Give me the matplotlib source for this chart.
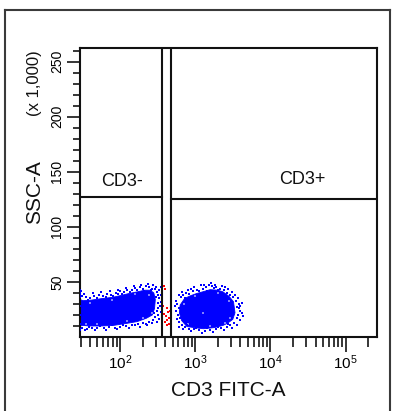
import numpy as np
import matplotlib
matplotlib.use("Agg")
import matplotlib.pyplot as plt
from matplotlib.lines import Line2D
from matplotlib.ticker import FixedLocator, LogLocator, NullFormatter

plt.rcParams['font.family'] = ['Liberation Sans', 'DejaVu Sans']
plt.rcParams['mathtext.fontset'] = 'custom'
plt.rcParams['mathtext.rm'] = 'Liberation Sans'
plt.rcParams['mathtext.default'] = 'regular'

# ---------------- data (x as log10 of CD3 FITC-A, y as SSC-A in thousands) ----------------
x_limits = [29.4, 262144]
y_limits = [0, 262]
y_major = [50, 100, 150, 200, 250]
x_major = [1e2, 1e3, 1e4, 1e5]
x_ticklabels = [r'$10^{2}$', r'$10^{3}$', r'$10^{4}$', r'$10^{5}$']

# gates
gate_neg_xmax = 362      # CD3- gate right edge
gate_neg_y = 127.2       # CD3- gate horizontal line
gate_pos_xmin = 476      # CD3+ gate left edge
gate_pos_y = 125.1       # CD3+ gate horizontal line
gate_names = ['CD3-', 'CD3+']
gate_label_x = [106, 26700]
gate_label_y = [141.3, 142.6]

# dense core outlines of the two populations (log10 x, y)
neg_core_logx = [1.468, 1.468, 1.51, 1.62, 1.77, 1.90, 2.00, 2.12, 2.23, 2.33, 2.40, 2.45,
                 2.47, 2.46, 2.43, 2.35, 2.23, 2.10, 1.91, 1.75, 1.60, 1.51]
neg_core_y = [10, 34, 33, 33.5, 35, 36, 37.5, 39.5, 41, 42.5, 42.5, 40,
              34, 26, 20, 17, 14, 12.5, 10.5, 10, 10, 10.5]
pos_core_logx = [2.80, 2.86, 2.94, 3.02, 3.10, 3.20, 3.30, 3.37, 3.45, 3.51, 3.53, 3.50,
                 3.43, 3.37, 3.25, 3.11, 2.99, 2.89, 2.82, 2.79]
pos_core_y = [29, 35, 37.5, 39.5, 41, 43, 42.5, 41, 37, 32, 22, 16,
              12.5, 10.5, 8.5, 7.5, 8.5, 9.5, 15, 22]

# sparse events around the cores
neg_dots_logx = [1.50, 1.55, 1.60, 1.66, 1.72, 1.78, 1.83, 1.88, 1.95, 2.00, 2.06, 2.10, 2.16,
                 2.20, 2.26, 2.30, 2.35, 2.39, 2.43, 2.46, 2.49, 2.50, 2.52, 2.50, 2.53, 2.49,
                 2.51, 2.47, 2.44, 2.38, 2.30, 2.24, 2.16, 2.08, 2.00, 1.93, 1.86, 1.79, 1.70,
                 1.63, 1.56, 1.50, 1.47, 1.47, 1.47, 1.48, 2.25, 2.40, 2.45, 2.52, 2.55, 2.36,
                 1.98, 1.469, 1.469, 1.469, 1.469, 1.469, 1.469, 1.469,
                 1.52, 1.58, 1.64, 1.69, 1.75, 1.81, 1.87, 1.91, 1.97, 2.03, 2.08, 2.13, 2.18,
                 2.22, 2.28, 2.32, 2.37, 2.41, 2.44, 2.48, 2.52, 2.54, 2.48, 2.55, 2.51, 2.54,
                 2.49, 2.42, 2.34, 2.27, 2.20, 2.12, 2.04, 1.96, 1.89, 1.82, 1.74, 1.67, 1.59, 1.53]
neg_dots_y = [37, 36.5, 35.5, 37, 38, 37, 39, 38.5, 40, 41.5, 41, 43, 42.5,
              44.5, 45, 44, 46, 45.5, 44, 43.5, 41, 38, 35, 31, 28, 24,
              20, 18, 15.5, 14, 13, 12, 10.5, 10, 9, 8.5, 9, 8, 8.5,
              8, 7.5, 8, 6.5, 38, 40, 42, 26, 30, 22, 16, 45, 10.5,
              39.5, 7, 12, 20, 28, 36, 40, 43,
              39.5, 34, 40, 35.5, 41, 36.5, 42, 37.5, 43, 39, 44.5, 40.5, 46,
              42.5, 47, 42, 48, 43, 47, 45.5, 42.5, 38.5, 36, 32, 26, 22.5,
              14, 12.5, 11.5, 9.5, 11, 8, 11, 7, 10.5, 6.5, 10, 6.5, 9.5, 6]
pos_dots_logx = [2.76, 2.78, 2.77, 2.79, 2.81, 2.84, 2.88, 2.92, 2.97, 3.02, 3.05, 3.10, 3.15,
                 3.18, 3.22, 3.25, 3.28, 3.33, 3.38, 3.42, 3.47, 3.50, 3.54, 3.58, 3.55, 3.60,
                 3.57, 3.55, 3.52, 3.47, 3.42, 3.35, 3.28, 3.20, 3.13, 3.05, 2.98, 2.92, 2.86,
                 2.82, 2.80, 3.60, 3.48, 3.40, 2.95, 3.08, 3.62,
                 2.74, 2.75, 2.79, 2.83, 2.87, 2.90, 2.99, 3.04, 3.12, 3.16, 3.21, 3.26, 3.31,
                 3.36, 3.44, 3.49, 3.53, 3.57, 3.62, 3.58, 3.63, 3.59, 3.55, 3.49, 3.44, 3.38,
                 3.31, 3.24, 3.16, 3.09, 3.01, 2.95, 2.89, 2.84, 2.78, 2.76, 2.73]
pos_dots_y = [30, 26, 20, 14, 36, 38, 40, 39, 42, 43, 41.5, 44, 45.5,
              47, 46, 44.5, 45.5, 44, 43, 40, 38, 36, 33, 30, 27, 24,
              20, 17, 13, 11, 9.5, 8, 7, 6, 5.5, 6, 7, 7.5, 9,
              11, 17, 28, 25, 45.5, 43.5, 47, 22,
              24, 33, 38, 41, 35.5, 43, 45, 38.5, 47.5, 42, 49, 47.5, 42.5,
              46.5, 43.5, 40.5, 38, 35, 31, 26, 19, 15, 11, 8.5, 12, 6,
              9, 4.5, 8, 4, 8.5, 5.5, 10.5, 7, 9, 16, 28]
# small gaps inside the dense cores
neg_gaps_logx = [1.60, 1.90, 2.20, 2.38, 2.42, 1.70, 2.10, 2.30, 1.55]
neg_gaps_y = [31, 34, 39, 38, 22, 12, 14.5, 17.5, 12]
pos_gaps_logx = [2.85, 3.00, 3.30, 3.45, 3.46, 3.20, 2.90, 3.10, 3.40]
pos_gaps_y = [30, 37, 40, 33, 17, 10, 12, 22, 12.5]
# ungated events between the two gates
mid_dots_logx = [2.589, 2.600, 2.621, 2.642, 2.612, 2.656, 2.598, 2.652, 2.621, 2.665, 2.585, 2.630, 2.575]
mid_dots_y = [46.5, 44, 26, 23, 19.5, 17, 14, 12, 10.5, 24, 21, 15.5, 28]

# ---------------- figure ----------------
W, H = 395, 411
fig = plt.figure(figsize=(W / 100, H / 100), dpi=100)
fig.patch.set_facecolor('white')

# outer frame
bc = '#3a3a3a'
fig.add_artist(Line2D([4.5 / W, 4.5 / W], [0, 1 - 10 / H], color=bc, lw=1.5, transform=fig.transFigure))
fig.add_artist(Line2D([389.5 / W, 389.5 / W], [0, 1 - 10 / H], color=bc, lw=1.5, transform=fig.transFigure))
fig.add_artist(Line2D([4.5 / W, 389.5 / W], [1 - 10 / H, 1 - 10 / H], color=bc, lw=1.5, transform=fig.transFigure))

L, R, T, B = 80, 377, 48.5, 337
ax = fig.add_axes([L / W, 1 - B / H, (R - L) / W, (B - T) / H])
ax.set_xscale('log')
ax.set_xlim(*x_limits)
ax.set_ylim(*y_limits)

blue = '#0000ff'
ax.fill(10 ** np.array(neg_core_logx), neg_core_y, color=blue, lw=0.6, ec=blue, zorder=2)
ax.fill(10 ** np.array(pos_core_logx), pos_core_y, color=blue, lw=0.6, ec=blue, zorder=2)
ax.scatter(10 ** np.array(neg_gaps_logx), neg_gaps_y, s=2.0, marker='s', c='#8080ff', lw=0, zorder=2.5)
ax.scatter(10 ** np.array(pos_gaps_logx), pos_gaps_y, s=2.0, marker='s', c='#8080ff', lw=0, zorder=2.5)
ax.scatter(10 ** np.array(neg_dots_logx), neg_dots_y, s=2.5, marker='s', c=blue, lw=0, zorder=3)
ax.scatter(10 ** np.array(pos_dots_logx), pos_dots_y, s=2.5, marker='s', c=blue, lw=0, zorder=3)
ax.scatter(10 ** np.array(mid_dots_logx), mid_dots_y, s=2.5, marker='s', c='#ff0000', lw=0, zorder=3)

# gates
gc = '#111111'
ax.axvline(gate_neg_xmax, color=gc, lw=1.5, zorder=4)
ax.axvline(gate_pos_xmin, color=gc, lw=1.5, zorder=4)
ax.plot([x_limits[0], gate_neg_xmax], [gate_neg_y, gate_neg_y], color=gc, lw=1.5, zorder=4)
ax.plot([gate_pos_xmin, x_limits[1]], [gate_pos_y, gate_pos_y], color=gc, lw=1.5, zorder=4)
for name, gx, gy in zip(gate_names, gate_label_x, gate_label_y):
    ax.text(gx, gy, name, ha='center', va='center', fontsize=13, color='#111111')

for s in ax.spines.values():
    s.set_linewidth(1.5)
    s.set_color('#111111')

# ticks
ax.yaxis.set_major_locator(FixedLocator(y_major))
ax.yaxis.set_minor_locator(FixedLocator([v for v in range(10, 261, 10) if v not in y_major]))
ax.set_yticklabels([str(v) for v in y_major])
ax.xaxis.set_major_locator(FixedLocator(x_major))
ax.xaxis.set_minor_locator(LogLocator(base=10, subs=np.arange(2, 10), numticks=20))
ax.xaxis.set_minor_formatter(NullFormatter())
ax.set_xticklabels(x_ticklabels)

ax.tick_params(axis='y', which='major', length=9.5, width=1.1, pad=2, labelsize=10, labelrotation=90)
ax.tick_params(axis='y', which='minor', length=5, width=1.1)
ax.tick_params(axis='x', which='major', length=10.8, width=1.1, pad=1, labelsize=11)
ax.tick_params(axis='x', which='minor', length=7.2, width=1.1)
for lab in ax.get_yticklabels():
    lab.set_va('center')

fig.text(228.5 / W, 1 - 390 / H, 'CD3 FITC-A', ha='center', va='center', fontsize=15, color='#111111')
fig.text(35 / W, 1 - 192 / H, 'SSC-A', ha='center', va='center', rotation=90, fontsize=15, color='#111111')
fig.text(35 / W, 1 - 83.5 / H, '(x 1,000)', ha='center', va='center', rotation=90, fontsize=12, color='#111111')

fig.savefig('out.png', dpi=100)
